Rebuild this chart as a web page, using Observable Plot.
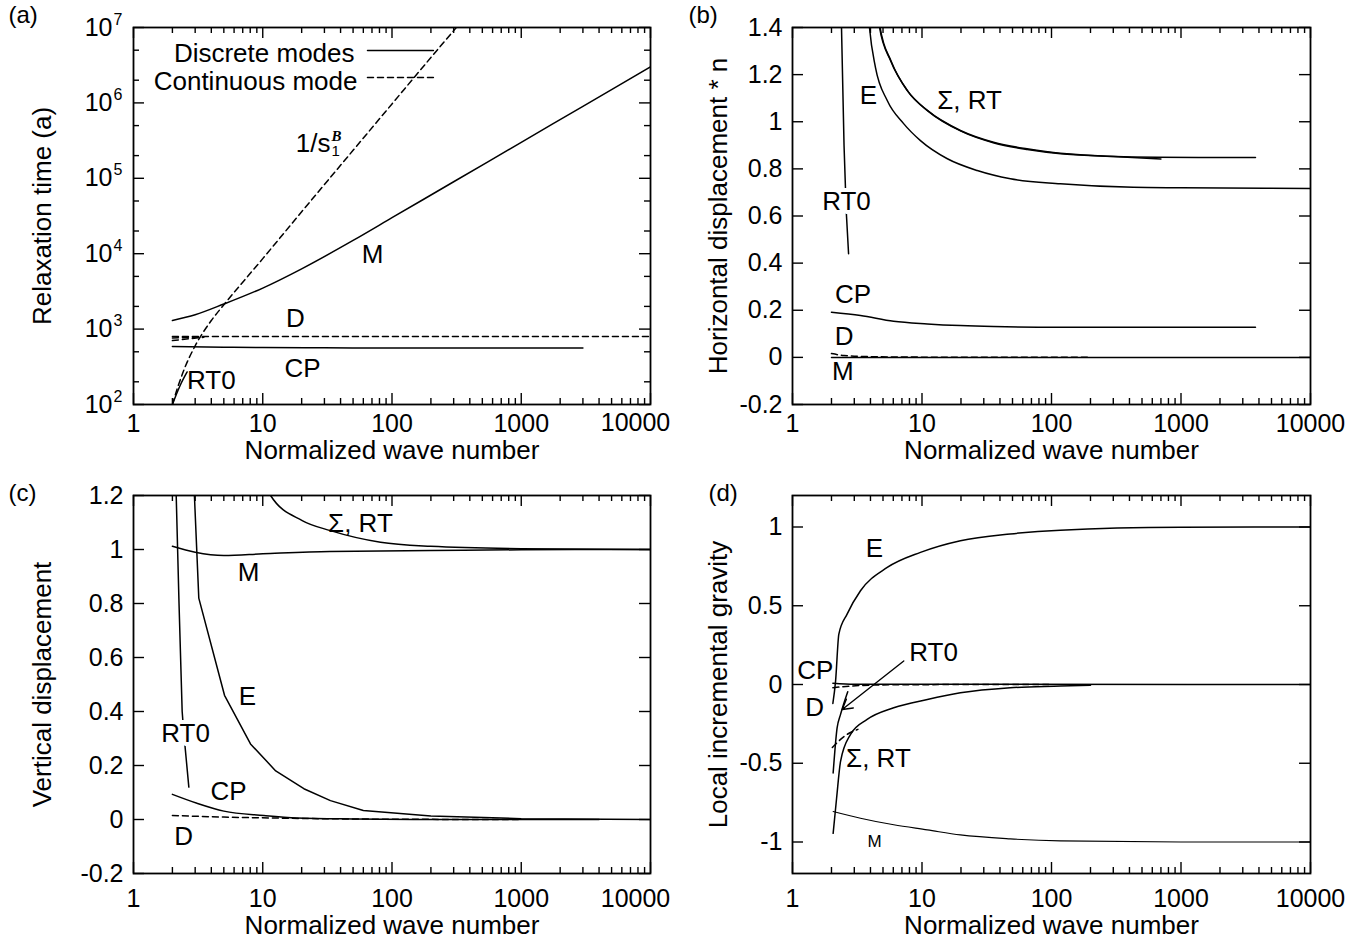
<!DOCTYPE html>
<html><head><meta charset="utf-8">
<script src="https://cdn.jsdelivr.net/npm/d3@7"></script>
<script src="https://cdn.jsdelivr.net/npm/@observablehq/plot@0.6"></script>
<style>
body{margin:0;background:#fff;}
#fig{position:relative;width:1372px;height:944px;overflow:hidden;background:#fff;}
#fig svg{position:absolute;}
</style></head><body><div id="fig"></div>
<script>
const FONT = '"Liberation Sans", Arial, Helvetica, sans-serif';

// ---------- shared axis ticks ----------
const xMajor = [1, 10, 100, 1000, 10000];
const xMinor = [2,3,4,5,6,7,8,9, 20,30,40,50,60,70,80,90, 200,300,400,500,600,700,800,900, 2000,3000,4000,5000,6000,7000,8000,9000];
const xTickLabels = ["1", "10", "100", "1000", "10000"];
const xTitle = "Normalized wave number";

// ---------- panel (a): relaxation time ----------
const aYMajor = [1e2, 1e3, 1e4, 1e5, 1e6, 1e7];
const aYExponents = ["2", "3", "4", "5", "6", "7"];
const aYMinor = [200, 500, 2000, 5000, 2e4, 5e4, 2e5, 5e5, 2e6, 5e6];
const aM_k = [2, 3, 5, 10, 20, 50, 100, 300, 1000, 3000, 10000];
const aM_t = [1300, 1550, 2150, 3500, 6300, 15000, 30000, 90000, 3.0e5, 9.0e5, 3.0e6];
const aS_k = [2, 2.2, 2.5, 3, 4, 5, 10, 20, 50, 100, 200, 330];
const aS_t = [100, 170, 310, 600, 1300, 2100, 8600, 36000, 2.35e5, 9.7e5, 4.0e6, 1.1e7];
const aRT0_k = [2, 2.3, 2.6];
const aRT0_t = [100, 180, 270];
const aD_k = [2, 10, 100, 1000, 12000];
const aD_t = [800, 800, 800, 800, 800];
const aD2_k = [2, 3.3];
const aD2_t = [760, 790];
const aD3_k = [2, 3.5];
const aD3_t = [705, 780];
const aCP_k = [2, 5, 10, 30, 100, 3000];
const aCP_t = [590, 575, 570, 565, 560, 560];
const aLabels = [
  {text: "M", k: 70.7, v: 9750}, {text: "D", k: 17.9, v: 1384},
  {text: "CP", k: 20.3, v: 300}, {text: "RT0", k: 4.0, v: 208}
];
const aLegendText = [
  {text: "Discrete modes", k: 51.3, v: 4.52e6},
  {text: "Continuous mode", k: 54.1, v: 1.92e6}
];
const aLegendSolid = [{k: 64.6, v: 4.95e6}, {k: 209, v: 4.95e6}];
const aLegendDash = [{k: 64.6, v: 2.17e6}, {k: 209, v: 2.17e6}];
const aSLabel = {main: "1/s", sub: "1", sup: "B", k: 33.4, v: 2.9e5};

// ---------- panel (b): horizontal displacement * n ----------
const bYMajor = [-0.2, 0, 0.2, 0.4, 0.6, 0.8, 1, 1.2, 1.4];
const bRT0_k = [2.37, 2.39, 2.5, 2.6, 2.71];
const bRT0_v = [1.5, 1.4, 0.9, 0.62, 0.44];
const bE_k = [3.8, 3.93, 4.37, 5.39, 7.24, 9.73, 15.7, 26.7, 48.2, 117, 427, 1000, 10000];
const bE_v = [1.5, 1.4, 1.231, 1.09, 0.991, 0.92, 0.843, 0.793, 0.758, 0.737, 0.722, 0.72, 0.717];
const bS_k = [4.5, 4.7, 5.71, 7.69, 11, 19.8, 35.7, 64.6, 117, 655, 3760];
const bS_v = [1.48, 1.4, 1.26, 1.133, 1.048, 0.963, 0.913, 0.885, 0.866, 0.849, 0.848];
const bRT_k = [4.55, 4.75, 5.8, 7.8, 11.2, 20, 36, 65, 118, 300, 700];
const bRT_v = [1.48, 1.4, 1.255, 1.128, 1.044, 0.96, 0.91, 0.882, 0.864, 0.853, 0.842];
const bCP_k = [2, 3.35, 6.03, 11, 19.8, 35.7, 117, 1000, 3760];
const bCP_v = [0.192, 0.178, 0.153, 0.142, 0.135, 0.131, 0.128, 0.128, 0.128];
const bD_k = [2, 2.5, 4, 10, 200];
const bD_v = [0.016, 0.008, 0.003, 0.001, 0.0];
const bM_k = [2, 10000];
const bM_v = [0, 0];
const bLabels = [
  {text: "E", k: 3.86, v: 1.111}, {text: "Σ, RT", k: 23.3, v: 1.09},
  {text: "RT0", k: 2.61, v: 0.661, halo: true}, {text: "CP", k: 2.93, v: 0.267},
  {text: "D", k: 2.5, v: 0.088}, {text: "M", k: 2.45, v: -0.06}
];

// ---------- panel (c): vertical displacement ----------
const cYMajor = [-0.2, 0, 0.2, 0.4, 0.6, 0.8, 1, 1.2];
const cRT0_k = [2.13, 2.14, 2.25, 2.38, 2.45, 2.68];
const cRT0_v = [1.25, 1.2, 0.8, 0.40, 0.32, 0.12];
const cE_k = [2.94, 2.96, 3.2, 5.06, 8.04, 12.6, 20.8, 33.4, 60, 200, 1000, 10000];
const cE_v = [1.25, 1.2, 0.82, 0.46, 0.28, 0.18, 0.114, 0.07, 0.033, 0.013, 0.003, 0];
const cS_k = [11, 11.5, 20.2, 33.4, 81.5, 199, 1000, 10000];
const cS_v = [1.22, 1.2, 1.107, 1.07, 1.027, 1.012, 1.003, 1.0];
const cM_k = [2, 3, 5, 10, 33, 200, 1000, 10000];
const cM_v = [1.012, 0.99, 0.978, 0.984, 0.993, 0.996, 0.999, 1.0];
const cCP_k = [2, 3.1, 5, 10.2, 18.4, 50, 200, 4000];
const cCP_v = [0.093, 0.06, 0.031, 0.015, 0.006, 0.002, 0.0, 0.0];
const cD_k = [2, 5, 20, 100, 1000];
const cD_v = [0.015, 0.009, 0.004, 0.001, 0];
const cLabels = [
  {text: "Σ, RT", k: 57, v: 1.096}, {text: "M", k: 7.76, v: 0.915},
  {text: "E", k: 7.6, v: 0.456}, {text: "RT0", k: 2.53, v: 0.319, halo: true},
  {text: "CP", k: 5.43, v: 0.104}, {text: "D", k: 2.44, v: -0.063}
];

// ---------- panel (d): local incremental gravity ----------
const dYMajor = [-1, -0.5, 0, 0.5, 1];
const dE_k = [2.05, 2.15, 2.28, 2.64, 3.35, 5.39, 9.73, 19.8, 48, 117, 1000, 10000];
const dE_v = [-0.12, 0.02, 0.32, 0.447, 0.595, 0.743, 0.839, 0.913, 0.956, 0.98, 0.998, 1.0];
const dCP_k = [2.05, 3, 10000];
const dCP_v = [0.008, 0.002, 0];
const dD_k = [2.05, 4, 10, 100];
const dD_v = [-0.02, -0.004, -0.001, 0];
const dSc_k = [2.03, 2.5, 3.2];
const dSc_v = [-0.40, -0.33, -0.285];
const dRT0_k = [2.06, 2.21, 2.35, 2.67];
const dRT0_v = [-0.562, -0.276, -0.19, -0.046];
const dS_k = [2.06, 2.19, 2.35, 2.8, 3.77, 6.05, 11, 19.8, 48, 117, 200];
const dS_v = [-0.945, -0.722, -0.488, -0.318, -0.222, -0.148, -0.095, -0.053, -0.021, -0.01, -0.004];
const dM_k = [2.06, 3.35, 6.05, 11, 19.8, 48, 117, 1000, 10000];
const dM_v = [-0.806, -0.849, -0.891, -0.923, -0.955, -0.98, -0.993, -1.0, -1.0];
const dArrow = [{k1: 7.23, v1: 0.149, k2: 2.42, v2: -0.159}];
const dLabels = [
  {text: "E", k: 4.3, v: 0.863}, {text: "RT0", k: 12.3, v: 0.2},
  {text: "CP", k: 1.5, v: 0.086}, {text: "D", k: 1.48, v: -0.15},
  {text: "Σ, RT", k: 4.61, v: -0.468}, {text: "M", k: 4.3, v: -0.996, size: 17}
];

// ---------- helpers ----------
const zip = (ks, vs) => ks.map((k, i) => ({k, v: vs[i]}));
const fmtLin = d => String(Math.round(d * 10) / 10);

function panel(cfg) {
  const W = 686, H = 472;
  const iw = W - cfg.ml - cfg.mr, ih = H - cfg.mt - cfg.mb;
  const marks = [];
  const tw = 1.4;
  // inward ticks on all four sides
  marks.push(Plot.ruleX(xMajor, {insetTop: ih - 11, strokeWidth: tw}));
  marks.push(Plot.ruleX(xMajor, {insetBottom: ih - 11, strokeWidth: tw}));
  marks.push(Plot.ruleX(xMinor, {insetTop: ih - 6, strokeWidth: tw}));
  marks.push(Plot.ruleX(xMinor, {insetBottom: ih - 6, strokeWidth: tw}));
  marks.push(Plot.ruleY(cfg.yMajor, {insetRight: iw - 11, strokeWidth: tw}));
  marks.push(Plot.ruleY(cfg.yMajor, {insetLeft: iw - 11, strokeWidth: tw}));
  if (cfg.yMinor) {
    marks.push(Plot.ruleY(cfg.yMinor, {insetRight: iw - 6, strokeWidth: tw}));
    marks.push(Plot.ruleY(cfg.yMinor, {insetLeft: iw - 6, strokeWidth: tw}));
  }
  // tick labels
  const nx = cfg.shiftLast ? 4 : 5;
  marks.push(Plot.axisX({ticks: xMajor.slice(0, nx), tickSize: 0, tickPadding: cfg.xPad,
    tickFormat: (d) => xTickLabels[xMajor.indexOf(d)], fontSize: 25, label: null}));
  if (cfg.shiftLast) {
    marks.push(Plot.text([xMajor[4]], {x: d => d, text: () => xTickLabels[4], frameAnchor: "bottom",
      dy: cfg.xPad + 9, dx: -15, lineAnchor: "middle", fontSize: 25}));
  }
  if (cfg.yExp) {
    marks.push(Plot.axisY({ticks: cfg.yMajor, tickSize: 0, tickPadding: 21, tickFormat: () => "10",
      fontSize: 25, label: null}));
    marks.push(Plot.text(cfg.yMajor, {y: d => d, text: (d, i) => cfg.yExp[i], frameAnchor: "left",
      dx: -20, dy: -8, textAnchor: "start", lineAnchor: "middle", fontSize: 16}));
  } else {
    marks.push(Plot.axisY({ticks: cfg.yMajor, tickSize: 0, tickPadding: 10, tickFormat: cfg.yFmt,
      fontSize: 25, label: null}));
  }
  // axis titles
  marks.push(Plot.text([xTitle], {text: d => d, frameAnchor: "bottom", dy: cfg.xTitleDy,
    lineAnchor: "middle", fontSize: 26}));
  marks.push(Plot.text([cfg.yTitle], {text: d => d, frameAnchor: "left", rotate: -90,
    dx: cfg.yTitleDx, lineAnchor: "middle", textAnchor: "middle", fontSize: 26}));
  // panel tag
  marks.push(Plot.text([cfg.tag], {text: d => d, frameAnchor: "top-left", dx: cfg.tagDx, dy: cfg.tagDy,
    textAnchor: "start", lineAnchor: "middle", fontSize: 24}));
  // series
  for (const s of cfg.series) {
    marks.push(Plot.line(zip(s.k, s.v), {x: "k", y: "v", stroke: "black",
      strokeWidth: s.sw || 1.5, strokeDasharray: s.dash ? "6,4" : null, clip: true,
      curve: s.straight ? "linear" : "monotone-x", strokeLinejoin: "round"}));
  }
  if (cfg.extra) marks.push(...cfg.extra);
  // labels
  for (const l of cfg.labels) {
    marks.push(Plot.text([l], {x: "k", y: "v", text: "text", fontSize: l.size || 26,
      lineAnchor: "middle", textAnchor: "middle", fill: "black",
      stroke: l.halo ? "white" : null, strokeWidth: l.halo ? 8 : null, paintOrder: "stroke"}));
  }
  marks.push(Plot.frame({stroke: "black", strokeWidth: 1.8}));
  const svg = Plot.plot({
    width: W, height: H,
    marginLeft: cfg.ml, marginRight: cfg.mr, marginTop: cfg.mt, marginBottom: cfg.mb,
    x: {type: "log", domain: [1, 10000], label: null},
    y: {type: cfg.yType, domain: cfg.yDomain, label: null},
    style: {fontFamily: FONT, fontSize: "25px", color: "black", background: "white", overflow: "visible"},
    marks
  });
  svg.style.left = cfg.left + "px";
  svg.style.top = cfg.top + "px";
  return svg;
}

const fig = document.getElementById("fig");

// (a)
fig.appendChild(panel({
  left: 0, top: 0, ml: 133, mr: 36, mt: 27, mb: 68,
  yType: "log", yDomain: [100, 1e7], yMajor: aYMajor, yMinor: aYMinor, yExp: aYExponents,
  yTitle: "Relaxation time (a)", yTitleDx: -91, xPad: 9.5, xTitleDy: 46, shiftLast: true,
  tag: "(a)", tagDx: -125, tagDy: -12,
  series: [
    {k: aS_k, v: aS_t, dash: true},
    {k: aRT0_k, v: aRT0_t},
    {k: aM_k, v: aM_t},
    {k: aD_k, v: aD_t, dash: true, straight: true},
    {k: aD2_k, v: aD2_t, dash: true, straight: true},
    {k: aD3_k, v: aD3_t, dash: true, straight: true},
    {k: aCP_k, v: aCP_t}
  ],
  extra: [
    Plot.line(aLegendSolid, {x: "k", y: "v", stroke: "black", strokeWidth: 1.5}),
    Plot.line(aLegendDash, {x: "k", y: "v", stroke: "black", strokeWidth: 1.5, strokeDasharray: "6,4"}),
    Plot.text(aLegendText, {x: "k", y: "v", text: "text", textAnchor: "end", lineAnchor: "middle", fontSize: 26}),
    Plot.text([aSLabel], {x: "k", y: "v", text: "main", textAnchor: "end", lineAnchor: "middle", fontSize: 26}),
    Plot.text([aSLabel], {x: "k", y: "v", text: "sub", textAnchor: "start", lineAnchor: "middle", fontSize: 15, dx: 1, dy: 8}),
    Plot.text([aSLabel], {x: "k", y: "v", text: "sup", textAnchor: "start", lineAnchor: "middle", fontSize: 15,
      dx: 1, dy: -7, fontFamily: '"Liberation Serif", "DejaVu Serif", serif', fontStyle: "italic", fontWeight: "bold"})
  ],
  labels: aLabels
}));

// (b)
fig.appendChild(panel({
  left: 686, top: 0, ml: 106, mr: 62, mt: 27, mb: 68,
  yType: "linear", yDomain: [-0.2, 1.4], yMajor: bYMajor, yFmt: fmtLin,
  yTitle: "Horizontal displacement * n", yTitleDx: -74, xPad: 9.5, xTitleDy: 46, shiftLast: false,
  tag: "(b)", tagDx: -104, tagDy: -12,
  series: [
    {k: bRT0_k, v: bRT0_v, straight: true},
    {k: bE_k, v: bE_v},
    {k: bS_k, v: bS_v},
    {k: bRT_k, v: bRT_v},
    {k: bCP_k, v: bCP_v},
    {k: bD_k, v: bD_v, dash: true},
    {k: bM_k, v: bM_v, straight: true}
  ],
  labels: bLabels
}));

// (c)
fig.appendChild(panel({
  left: 0, top: 472, ml: 133, mr: 36, mt: 23, mb: 71,
  yType: "linear", yDomain: [-0.2, 1.2], yMajor: cYMajor, yFmt: fmtLin,
  yTitle: "Vertical displacement", yTitleDx: -91, xPad: 16, xTitleDy: 52, shiftLast: true,
  tag: "(c)", tagDx: -125, tagDy: -2,
  series: [
    {k: cRT0_k, v: cRT0_v, straight: true},
    {k: cE_k, v: cE_v, straight: true},
    {k: cS_k, v: cS_v},
    {k: cM_k, v: cM_v},
    {k: cCP_k, v: cCP_v},
    {k: cD_k, v: cD_v, dash: true}
  ],
  labels: cLabels
}));

// (d)
fig.appendChild(panel({
  left: 686, top: 472, ml: 106, mr: 62, mt: 23, mb: 71,
  yType: "linear", yDomain: [-1.2, 1.2], yMajor: dYMajor, yFmt: fmtLin,
  yTitle: "Local incremental gravity", yTitleDx: -74, xPad: 16, xTitleDy: 52, shiftLast: false,
  tag: "(d)", tagDx: -84, tagDy: -2,
  series: [
    {k: dE_k, v: dE_v},
    {k: dCP_k, v: dCP_v},
    {k: dD_k, v: dD_v, dash: true},
    {k: dSc_k, v: dSc_v, dash: true},
    {k: dRT0_k, v: dRT0_v},
    {k: dS_k, v: dS_v},
    {k: dM_k, v: dM_v, sw: 1.1}
  ],
  extra: [
    Plot.arrow(dArrow, {x1: "k1", y1: "v1", x2: "k2", y2: "v2", stroke: "black", strokeWidth: 1.4, headLength: 12})
  ],
  labels: dLabels
}));
</script>
</body></html>
